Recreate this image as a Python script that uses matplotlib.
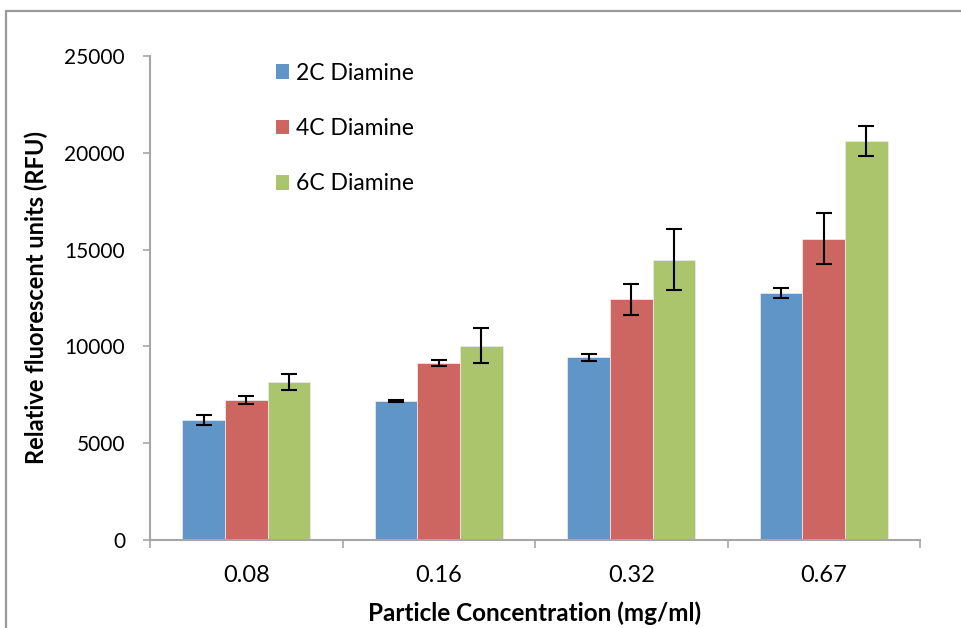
import matplotlib
matplotlib.use("Agg")
import matplotlib.pyplot as plt
import numpy as np
from matplotlib.patches import Rectangle

# Data
categories = ["0.08", "0.16", "0.32", "0.67"]
series_names = ["2C Diamine", "4C Diamine", "6C Diamine"]
values_2c = [6200, 7190, 9440, 12760]
values_4c = [7230, 9140, 12430, 15570]
values_6c = [8180, 10040, 14480, 20600]
err_2c = [250, 60, 170, 280]
err_4c = [200, 155, 785, 1330]
err_6c = [420, 900, 1570, 780]
y_ticks = [0, 5000, 10000, 15000, 20000, 25000]

colors = ["#5F95C7", "#CD6560", "#AAC56C"]

plt.rcParams["font.family"] = ["Lato", "DejaVu Sans"]

W, H = 962, 628
fig = plt.figure(figsize=(W / 100, H / 100), dpi=100)
ax = fig.add_axes([150 / W, 1 - 540 / H, (920 - 150) / W, (540 - 56) / H])

# Outer chart border (left and top edges visible)
fig.patches.append(Rectangle((6 / W, -0.1), 1.2, 1 - 11 / H + 0.1,
                             transform=fig.transFigure, fill=False,
                             edgecolor="#9a9a9a", linewidth=1.6))

x = np.arange(len(categories))
bw = 0.222
all_vals = [values_2c, values_4c, values_6c]
all_errs = [err_2c, err_4c, err_6c]
for i, (vals, errs) in enumerate(zip(all_vals, all_errs)):
    ax.bar(x + (i - 1) * bw, vals, width=bw, color=colors[i],
           edgecolor="#e8e8e8", linewidth=0.6, label=series_names[i],
           yerr=errs, capsize=5.5,
           error_kw=dict(ecolor="black", elinewidth=1.5, capthick=1.5))

ax.set_xlim(-0.5, len(categories) - 0.5)
ax.set_ylim(0, 25000)
ax.set_yticks(y_ticks)
ax.set_yticklabels([str(v) for v in y_ticks])
ax.set_xticks(x)
ax.set_xticklabels(categories)
ax.set_xticks(np.arange(len(categories) + 1) - 0.5, minor=True)

for s in ["top", "right"]:
    ax.spines[s].set_visible(False)
for s in ["left", "bottom"]:
    ax.spines[s].set_color("#a6a6a6")
    ax.spines[s].set_linewidth(1.5)

ax.tick_params(axis="y", direction="out", length=5, width=1.2, color="#a6a6a6",
               labelsize=15, pad=13)
ax.tick_params(axis="x", which="major", length=0, labelsize=17, pad=18)
ax.tick_params(axis="x", which="minor", direction="out", length=6, width=1.2,
               color="#a6a6a6")

ax.set_xlabel("Particle Concentration (mg/ml)", fontsize=17.5, fontweight="bold",
              labelpad=11)
ax.set_ylabel("Relative fluorescent units (RFU)", fontsize=17, fontweight="bold",
              labelpad=12)

leg = ax.legend(loc="upper left", bbox_to_anchor=(255 / W, 1 - 42 / H),
                bbox_transform=fig.transFigure, frameon=False, fontsize=16.5,
                handlelength=0.6, handleheight=0.6, handletextpad=0.3,
                labelspacing=1.5)
for h in leg.legend_handles:
    h.set_edgecolor("none")

fig.savefig("out.png", dpi=100)
